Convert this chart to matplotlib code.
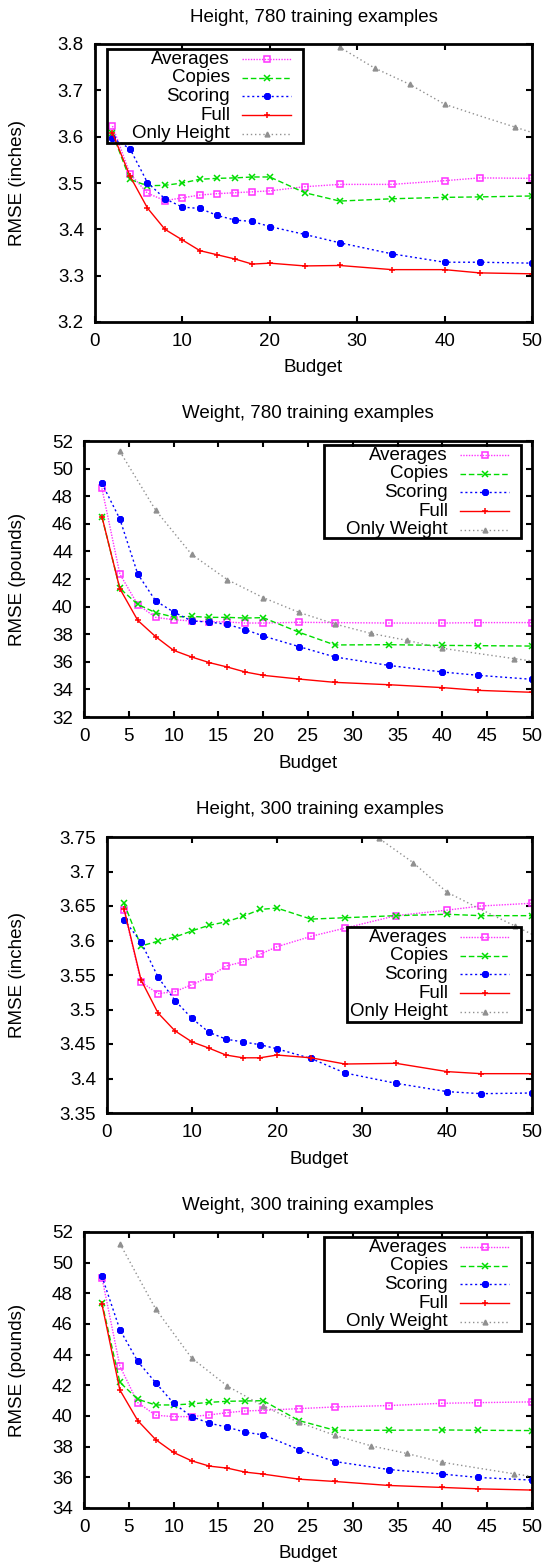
import matplotlib
matplotlib.use("Agg")
import matplotlib.pyplot as plt
from matplotlib.lines import Line2D
from matplotlib.patches import Rectangle

plt.rcParams["font.family"] = ["Liberation Sans", "DejaVu Sans"]
plt.rcParams["font.size"] = 13.5

# budgets used by the four learned models
budget = [2, 4, 6, 8, 10, 12, 14, 16, 18, 20, 24, 28, 34, 40, 44, 50]
# single-feature baseline is evaluated on a coarser grid
budget_only = [4, 8, 12, 16, 20, 24, 28, 32, 36, 40, 44, 48, 50]
# points of the baseline that carry a marker (44 and 50 have none in the plot)
only_marked = [0, 1, 2, 3, 4, 5, 6, 7, 8, 9, 11]

# Height, 780 training examples
h780_avg = [3.623, 3.520, 3.478, 3.462, 3.468, 3.474, 3.477, 3.479, 3.481, 3.483,
            3.492, 3.497, 3.497, 3.505, 3.511, 3.510]
h780_copies = [3.607, 3.508, 3.494, 3.495, 3.500, 3.508, 3.510, 3.511, 3.513, 3.513,
               3.479, 3.461, 3.466, 3.469, 3.470, 3.472]
h780_scoring = [3.597, 3.574, 3.501, 3.466, 3.448, 3.445, 3.430, 3.420, 3.417, 3.406,
                3.389, 3.371, 3.347, 3.329, 3.329, 3.327]
h780_full = [3.608, 3.515, 3.446, 3.400, 3.377, 3.354, 3.345, 3.336, 3.325, 3.327,
             3.321, 3.322, 3.313, 3.313, 3.306, 3.304]

# Weight, 780 training examples
w780_avg = [48.57, 42.36, 40.14, 39.22, 39.05, 38.96, 38.91, 38.88, 38.81, 38.81,
            38.86, 38.84, 38.81, 38.81, 38.84, 38.84]
w780_copies = [46.49, 41.32, 40.16, 39.56, 39.25, 39.29, 39.22, 39.22, 39.17, 39.20,
               38.14, 37.22, 37.24, 37.19, 37.17, 37.14]
w780_scoring = [48.93, 46.35, 42.36, 40.41, 39.61, 38.96, 38.88, 38.71, 38.33, 37.87,
                37.10, 36.35, 35.74, 35.26, 35.02, 34.73]
w780_full = [46.52, 41.30, 39.00, 37.82, 36.83, 36.35, 35.94, 35.62, 35.26, 35.02,
             34.75, 34.51, 34.34, 34.13, 33.93, 33.79]

# Height, 300 training examples
h300_avg = [3.644, 3.540, 3.523, 3.526, 3.536, 3.547, 3.563, 3.569, 3.580, 3.591,
            3.606, 3.618, 3.636, 3.644, 3.650, 3.654]
h300_copies = [3.654, 3.592, 3.599, 3.605, 3.614, 3.622, 3.627, 3.635, 3.645, 3.647,
               3.631, 3.633, 3.636, 3.638, 3.636, 3.636]
h300_scoring = [3.630, 3.598, 3.547, 3.513, 3.487, 3.467, 3.457, 3.453, 3.449, 3.443,
                3.429, 3.408, 3.393, 3.381, 3.378, 3.379]
h300_full = [3.646, 3.543, 3.495, 3.469, 3.453, 3.444, 3.434, 3.430, 3.430, 3.434,
             3.430, 3.421, 3.422, 3.410, 3.407, 3.407]

# Weight, 300 training examples
w300_avg = [49.03, 43.26, 40.87, 40.05, 39.96, 39.96, 40.07, 40.22, 40.33, 40.37,
            40.48, 40.59, 40.68, 40.83, 40.87, 40.92]
w300_copies = [47.40, 42.20, 41.09, 40.72, 40.72, 40.79, 40.89, 40.96, 40.98, 41.00,
               39.70, 39.07, 39.07, 39.09, 39.07, 39.05]
w300_scoring = [49.11, 45.64, 43.56, 42.17, 40.83, 39.96, 39.53, 39.27, 38.94, 38.77,
                37.81, 37.03, 36.51, 36.21, 35.99, 35.82]
w300_full = [47.29, 41.70, 39.70, 38.46, 37.62, 37.08, 36.73, 36.60, 36.34, 36.21,
             35.88, 35.73, 35.47, 35.34, 35.25, 35.17]

# single-feature baselines (same in both training sizes)
only_height = [4.60, 4.32, 4.13, 4.01, 3.92, 3.85, 3.793, 3.748, 3.713, 3.670,
               3.645, 3.621, 3.609]
only_weight = [51.25, 46.98, 43.79, 41.95, 40.65, 39.58, 38.74, 38.06, 37.56, 36.98,
               36.60, 36.23, 36.06]

W, H = 545, 1566
fig = plt.figure(figsize=(W / 100, H / 100), dpi=100)

STYLES = [
    dict(color="#ff30ff", ls=(0, (1, 1)), marker="s", ms=4, mfc="none", mew=1.1),
    dict(color="#00dd00", ls=(0, (4, 2)), marker="x", ms=4, mew=1.1),
    dict(color="#0000ff", ls=(0, (1.5, 2)), marker=(8, 2, 0), ms=5, mew=1.4),
    dict(color="#ff0000", ls="-", marker="+", ms=5, mew=1.1),
    dict(color="#909090", ls=(0, (1, 2)), marker="^", ms=3.5),
]


def px(x, y):
    return x / W, 1 - y / H


def draw_key(labels, box):
    # gnuplot-like key: right-aligned text, sample on the right, no fill
    l, t, r, b = box
    x0, y0 = px(l, b)
    x1, y1 = px(r, t)
    fig.add_artist(Rectangle((x0, y0), x1 - x0, y1 - y0, transform=fig.transFigure,
                             fill=False, ec="black", lw=2, zorder=5))
    for i, (lab, st) in enumerate(zip(labels, STYLES)):
        yy = t + 10 + i * 18.7
        fig.text(*px(r - 73, yy), lab, ha="right", va="center", zorder=6)
        st2 = {k: v for k, v in st.items() if k != "marker"}
        xa, ya = px(r - 61, yy)
        xb, _ = px(r - 12, yy)
        fig.add_artist(Line2D([xa, xb], [ya, ya], transform=fig.transFigure, lw=1,
                              zorder=6, **st2))
        xm, _ = px(r - 36, yy)
        fig.add_artist(Line2D([xm], [ya], transform=fig.transFigure, lw=0,
                              marker=st["marker"], color=st["color"],
                              ms=st["ms"], mfc=st.get("mfc", st["color"]),
                              mew=st.get("mew", 1), zorder=6))


def panel(rect, title, ylabel, series, only, only_label, ylim, yticks, xticks, keybox):
    l, t, r, b = rect
    ax = fig.add_axes([l / W, 1 - b / H, (r - l) / W, (b - t) / H])
    for ys, st in zip(series, STYLES[:4]):
        ax.plot(budget, ys, lw=1, **st)
    ax.plot(budget_only, only, lw=1, markevery=only_marked, **STYLES[4])
    ax.set_xlim(0, 50)
    ax.set_ylim(*ylim)
    ax.set_xticks(xticks)
    ax.set_yticks(yticks)
    ax.set_yticklabels([f"{v:g}" for v in yticks])
    ax.tick_params(direction="in", top=True, right=True, length=4, width=1.5,
                   labelsize=13.5, pad=8)
    for s in ax.spines.values():
        s.set_linewidth(2)
    fig.text(*px((l + r) / 2, t - 27), title, ha="center", va="center")
    fig.text(*px(18, (t + b) / 2), ylabel, rotation=90, ha="center", va="center")
    fig.text(*px((l + r) / 2, b + 46), "Budget", ha="center", va="center")
    draw_key(["Averages", "Copies", "Scoring", "Full", only_label], keybox)


panel((95, 44, 532, 322), "Height, 780 training examples", "RMSE (inches)",
      [h780_avg, h780_copies, h780_scoring, h780_full], only_height, "Only Height",
      (3.2, 3.8), [3.2, 3.3, 3.4, 3.5, 3.6, 3.7, 3.8], range(0, 51, 10),
      (107, 49, 303, 143))
panel((84, 441, 532, 717), "Weight, 780 training examples", "RMSE (pounds)",
      [w780_avg, w780_copies, w780_scoring, w780_full], only_weight, "Only Weight",
      (32, 52), list(range(32, 53, 2)), range(0, 51, 5),
      (324, 445, 521, 538))
panel((107, 837, 532, 1113), "Height, 300 training examples", "RMSE (inches)",
      [h300_avg, h300_copies, h300_scoring, h300_full], only_height, "Only Height",
      (3.35, 3.75), [3.35, 3.4, 3.45, 3.5, 3.55, 3.6, 3.65, 3.7, 3.75], range(0, 51, 10),
      (347, 927, 521, 1022))
panel((84, 1232, 532, 1508), "Weight, 300 training examples", "RMSE (pounds)",
      [w300_avg, w300_copies, w300_scoring, w300_full], only_weight, "Only Weight",
      (34, 52), list(range(34, 53, 2)), range(0, 51, 5),
      (324, 1237, 521, 1331))

fig.savefig("out.png", dpi=100)
